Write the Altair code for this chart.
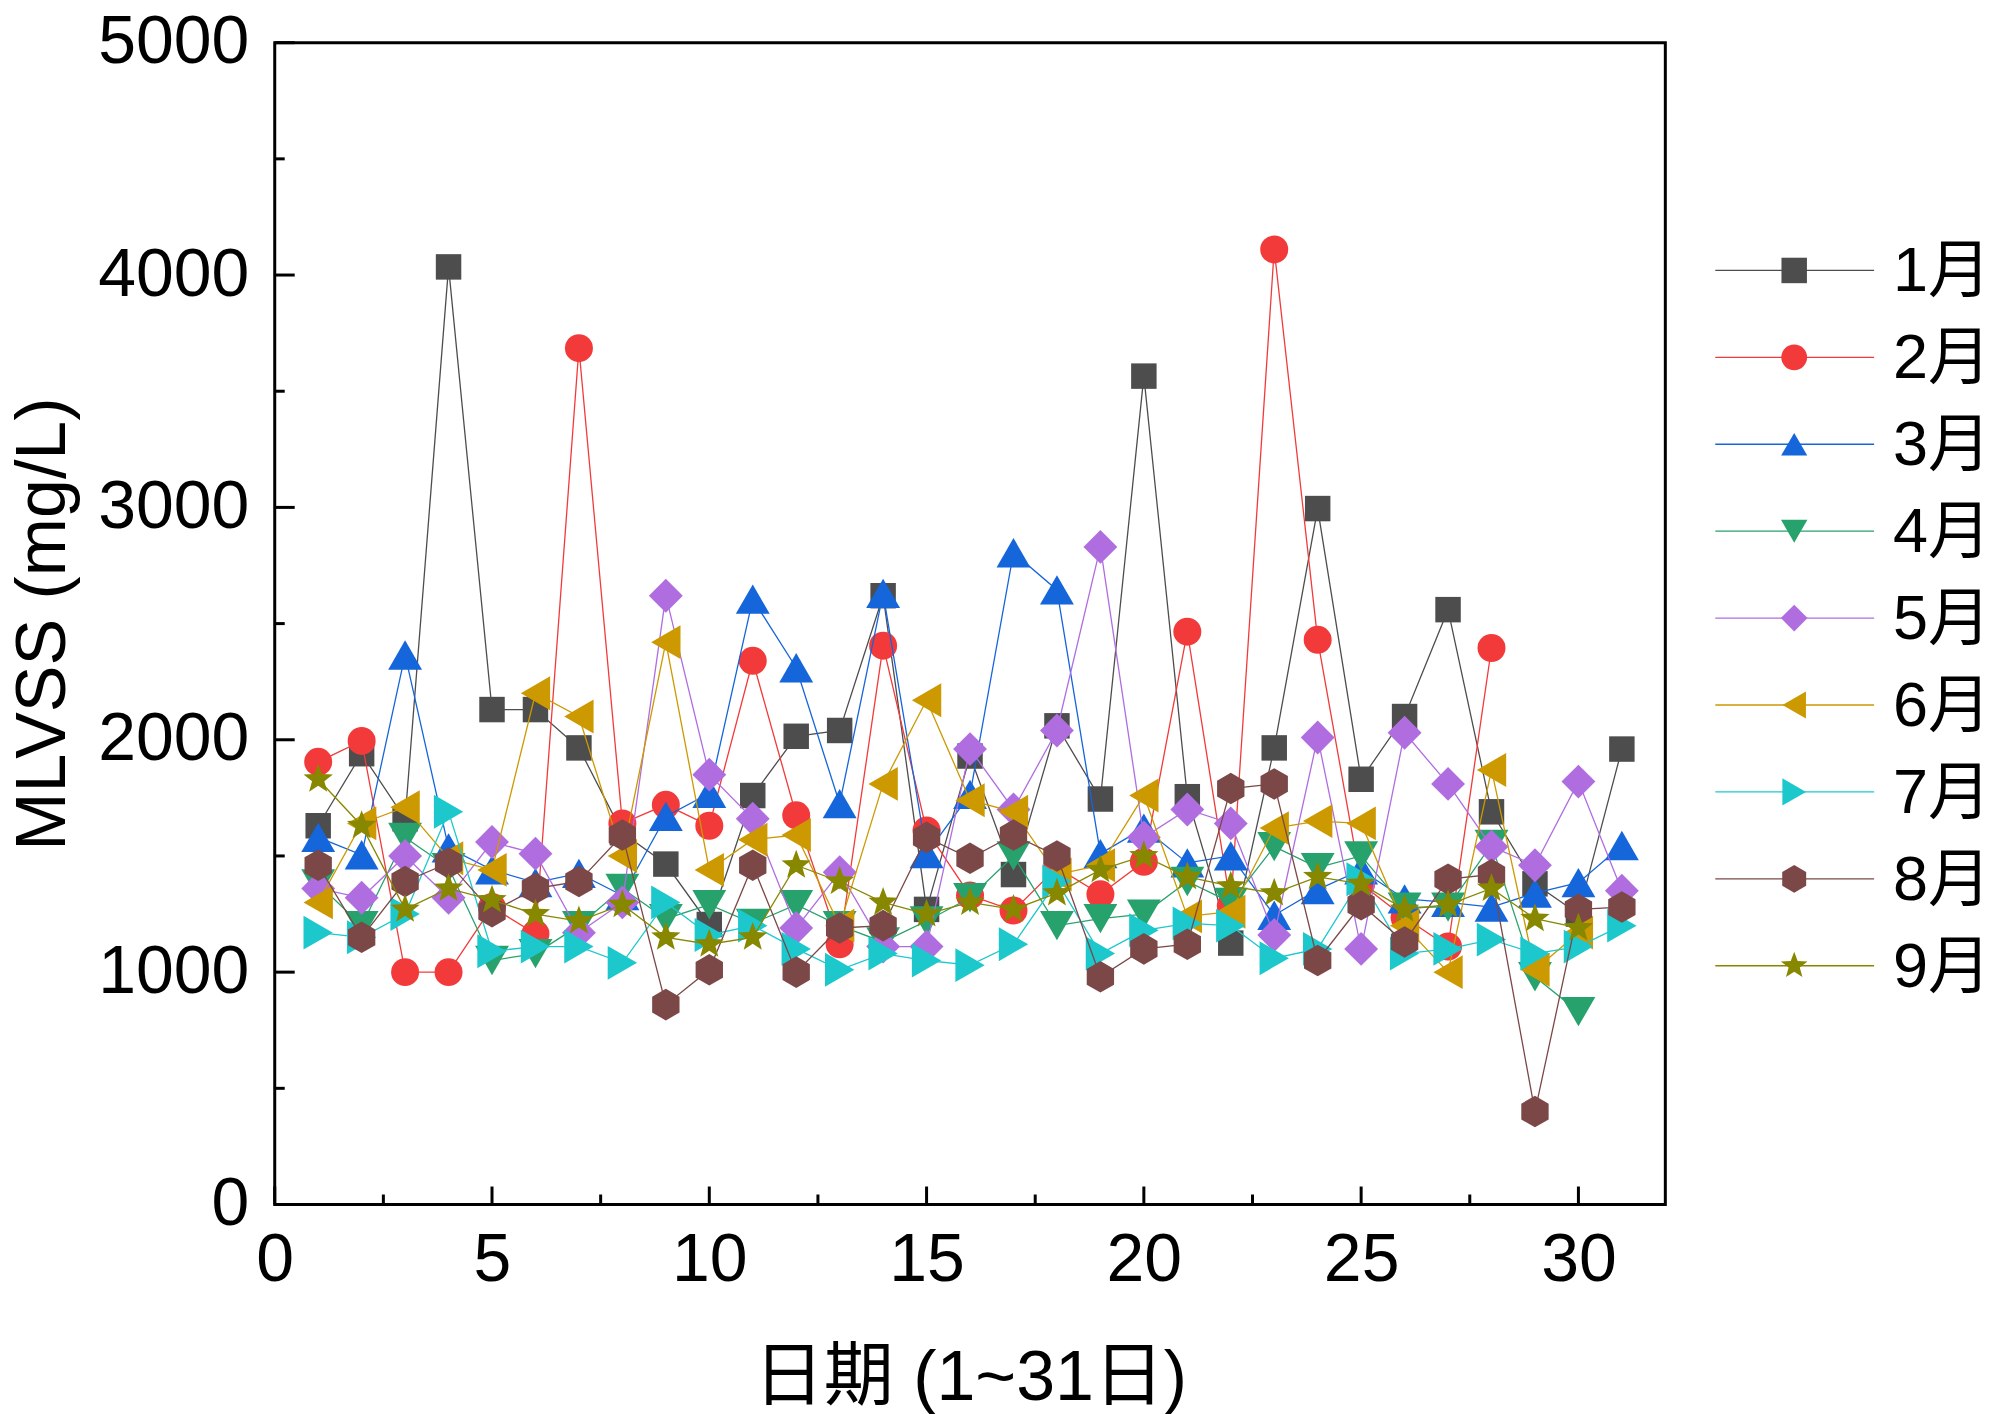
import math
import altair as alt
import pandas as pd

months = ["1月", "2月", "3月", "4月", "5月", "6月", "7月", "8月", "9月"]
colors = ["#4d4d4d", "#f23a3a", "#1565db", "#27a26c", "#b06de0",
          "#cc9900", "#1cc8cc", "#7b4747", "#878700"]

jan = [1630, 1940, 1660, 4035, 2130, 2130, 1965, 1600, 1465, 1205, 1760, 2015, 2040, 2620, 1270, 1930,
       1420, 2060, 1745, 3565, 1755, 1125, 1965, 2995, 1830, 2100, 2560, 1690, 1380, 1250, 1960]
feb = [1905, 1995, 1000, 1000, 1280, 1165, 3685, 1640, 1720, 1630, 2340, 1675, 1120, 2405, 1610, 1330,
       1265, 1450, 1335, 1475, 2465, 1285, 4110, 2430, 1380, 1235, 1110, 2395]
mar = [1580, 1505, 2365, 1535, 1440, 1385, 1425, 1330, 1670, 1770, 2605, 2310, 1725, 2630, 1510, 1765,
       2805, 2645, 1510, 1620, 1470, 1500, 1245, 1355, 1440, 1315, 1300, 1280, 1340, 1385, 1545]
apr = [1380, 1200, 1580, 1450, 1050, 1080, 1200, 1360, 1230, 1290, 1210, 1290, 1200, 1130, 1220, 1320,
       1500, 1200, 1230, 1250, 1390, 1300, 1540, 1450, 1500, 1280, 1280, 1550, 980, 830]
may = [1360, 1320, 1500, 1320, 1560, 1510, 1170, 1300, 2620, 1850, 1660, 1190, 1430, 1110, 1110, 1960,
       1700, 2040, 2830, 1580, 1700, 1640, 1160, 2010, 1100, 2030, 1810, 1540, 1460, 1820, 1350]
jun = [1300, 1640, 1710, 1490, 1440, 2200, 2100, 1500, 2420, 1440, 1570, 1590, 1200, 1810, 2170, 1740,
       1690, 1420, 1460, 1760, 1240, 1260, 1620, 1650, 1640, 1200, 1000, 1870, 1010, 1170]
jul = [1170, 1150, 1250, 1690, 1090, 1110, 1110, 1040, 1300, 1160, 1200, 1100, 1010, 1080, 1050, 1030,
       1120, 1390, 1080, 1180, 1210, 1200, 1060, 1100, 1400, 1080, 1100, 1140, 1080, 1110, 1200]
aug = [1460, 1150, 1390, 1470, 1260, 1360, 1390, 1590, 860, 1010, 1460, 1000, 1190, 1200, 1580, 1490,
       1590, 1500, 980, 1100, 1120, 1790, 1810, 1050, 1290, 1130, 1400, 1420, 400, 1270, 1280]
sep = [1830, 1630, 1270, 1360, 1310, 1250, 1220, 1290, 1150, 1120, 1150, 1460, 1390, 1300, 1250, 1300,
       1270, 1340, 1440, 1500, 1410, 1370, 1340, 1410, 1380, 1270, 1290, 1360, 1230, 1190]
series = [jan, feb, mar, apr, may, jun, jul, aug, sep]

x_major = [0, 5, 10, 15, 20, 25, 30]
x_minor = [2.5, 7.5, 12.5, 17.5, 22.5, 27.5]
y_major = [0, 1000, 2000, 3000, 4000, 5000]
y_minor = [500, 1500, 2500, 3500, 4500]

# marker shapes
hexagon = "M0,-1L0.866,-0.5L0.866,0.5L0,1L-0.866,0.5L-0.866,-0.5Z"
pts = []
for k in range(10):
    r = 1.0 if k % 2 == 0 else 0.42
    a = -math.pi / 2 + k * math.pi / 5
    pts.append(f"{r * math.cos(a):.3f},{r * math.sin(a):.3f}")
star = "M" + "L".join(pts) + "Z"
shapes = ["square", "circle", "triangle-up", "triangle-down", "diamond",
          "triangle-left", "triangle-right", hexagon, star]
sizes = [650, 784, 1150, 1150, 1150, 1150, 1150, 1000, 950]

rows = []
for m, vals in zip(months, series):
    for d, v in enumerate(vals, start=1):
        rows.append({"day": d, "value": v, "month": m})
df = pd.DataFrame(rows)

FONT = "'Liberation Sans', 'Noto Sans CJK SC', sans-serif"

xs = alt.Scale(domain=[0, 32], nice=False, zero=False)
ys = alt.Scale(domain=[0, 5000], nice=False)

layers = []
first = True
for m, c, sh, sz in zip(months, colors, shapes, sizes):
    dm = df[df["month"] == m]
    if first:
        xenc = alt.X("day:Q", scale=xs, title="日期 (1~31日)",
                     axis=alt.Axis(values=x_major, format="d", labelFlush=False))
        yenc = alt.Y("value:Q", scale=ys, title="MLVSS (mg/L)",
                     axis=alt.Axis(values=y_major, format="d", labelFlush=False))
        first = False
    else:
        xenc = alt.X("day:Q", scale=xs)
        yenc = alt.Y("value:Q", scale=ys)
    layers.append(alt.Chart(dm).mark_line(color=c, strokeWidth=1.3).encode(x=xenc, y=yenc))
    layers.append(alt.Chart(dm).mark_point(filled=True, opacity=1, shape=sh, size=sz, color=c)
                  .encode(x=alt.X("day:Q", scale=xs), y=alt.Y("value:Q", scale=ys)))

# inward ticks
ymaj = pd.DataFrame({"v": y_major})
ymin = pd.DataFrame({"v": y_minor})
xmaj = pd.DataFrame({"v": x_major})
xmin = pd.DataFrame({"v": x_minor})
layers.append(alt.Chart(ymaj).mark_rule(color="black", strokeWidth=3).encode(
    y=alt.Y("v:Q", scale=ys), x=alt.value(0), x2=alt.value(20)))
layers.append(alt.Chart(ymin).mark_rule(color="black", strokeWidth=3).encode(
    y=alt.Y("v:Q", scale=ys), x=alt.value(0), x2=alt.value(10)))
layers.append(alt.Chart(xmaj).mark_rule(color="black", strokeWidth=3).encode(
    x=alt.X("v:Q", scale=xs), y=alt.value(1163), y2=alt.value(1145)))
layers.append(alt.Chart(xmin).mark_rule(color="black", strokeWidth=3).encode(
    x=alt.X("v:Q", scale=xs), y=alt.value(1163), y2=alt.value(1153)))

main = alt.layer(*layers)

# custom legend (line + marker + label)
leg = pd.DataFrame({"month": months, "idx": list(range(1, 10))})
ly = alt.Y("idx:Q", scale=alt.Scale(domain=[-1.6207, 11.747], reverse=True, nice=False, zero=False),
           axis=None)
cscale = alt.Scale(domain=months, range=colors)
leg_rule = alt.Chart(leg).mark_rule(strokeWidth=1.3).encode(
    y=ly, x=alt.value(1442), x2=alt.value(1601),
    color=alt.Color("month:N", scale=cscale, legend=None))
leg_pt = alt.Chart(leg).mark_point(filled=True, opacity=1).encode(
    y=ly, x=alt.value(1521),
    color=alt.Color("month:N", scale=cscale, legend=None),
    shape=alt.Shape("month:N", scale=alt.Scale(domain=months, range=shapes), legend=None),
    size=alt.Size("month:N", scale=alt.Scale(domain=months, range=sizes), legend=None))
leg_txt = alt.Chart(leg).mark_text(align="left", baseline="middle", fontSize=63, font=FONT,
                                   color="black", dy=2).encode(
    y=ly, x=alt.value(1620), text="month:N")
legend = alt.layer(leg_rule, leg_pt, leg_txt)

chart = alt.layer(main, legend).resolve_scale(y="independent", color="independent",
                                              shape="independent", size="independent").properties(
    width=1392, height=1163, padding={"left": 0, "top": 0, "right": 0, "bottom": 0}
).configure_view(stroke="black", strokeWidth=3).configure_axis(
    ticks=False, tickSize=0, domain=False, grid=False,
    labelFont=FONT, titleFont=FONT, labelFontSize=68, titleFontSize=70,
    labelColor="black", titleColor="black", titleFontWeight="normal",
).configure_axisY(labelPadding=26, titlePadding=18).configure_axisX(
    labelPadding=22, titlePadding=50)

chart.save("out.html", embed_options={"renderer": "svg", "actions": False})
